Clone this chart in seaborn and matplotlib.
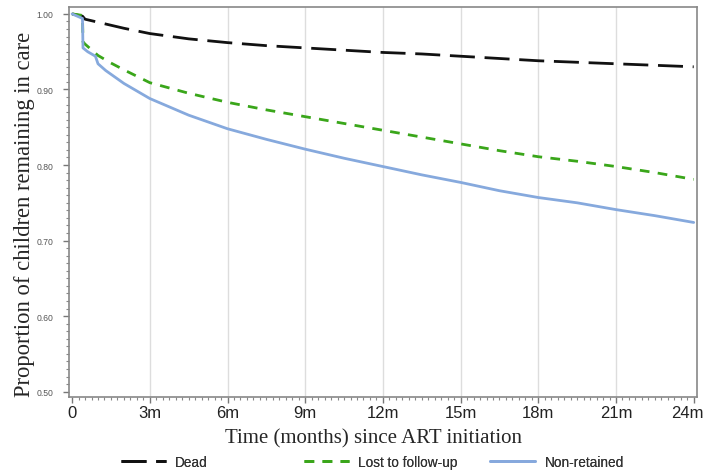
import numpy as np
import pandas as pd
import seaborn as sns
import matplotlib
matplotlib.use("Agg")
import matplotlib.pyplot as plt
import matplotlib.transforms as mtransforms
from matplotlib.ticker import MultipleLocator

# ---- data ----
dead_t = [0, 0.4, 0.5, 1, 2, 3, 4.5, 6, 7.5, 9, 10.5, 12, 13.5, 15, 16.5, 18, 19.5, 21, 22.5, 24]
dead_v = [1.0, 0.997, 0.993, 0.989, 0.981, 0.974, 0.967, 0.962, 0.958, 0.955, 0.952, 0.949,
          0.947, 0.944, 0.941, 0.938, 0.936, 0.934, 0.932, 0.930]

ltfu_t = [0, 0.4, 0.42, 0.5, 1, 1.5, 2, 3, 4.5, 6, 7.5, 9, 10.5, 12, 13.5, 15, 16.5, 18, 19.5, 21, 22.5, 24]
ltfu_v = [1.0, 0.998, 0.963, 0.960, 0.945, 0.935, 0.926, 0.909, 0.895, 0.883, 0.873, 0.864,
          0.855, 0.846, 0.837, 0.828, 0.819, 0.811, 0.805, 0.798, 0.790, 0.781]

nonret_t = [0, 0.4, 0.42, 0.6, 0.9, 1.0, 1.3, 2, 3, 4.5, 6, 7.5, 9, 10.5, 12, 13.5, 15, 16.5,
            18, 19.5, 21, 22.5, 24]
nonret_v = [1.0, 0.994, 0.955, 0.950, 0.944, 0.934, 0.925, 0.908, 0.888, 0.866, 0.848, 0.834,
            0.821, 0.809, 0.798, 0.787, 0.777, 0.766, 0.757, 0.750, 0.741, 0.733, 0.724]

series_names = ["Dead", "Lost to follow-up", "Non-retained"]
x_ticks = [0, 3, 6, 9, 12, 15, 18, 21, 24]
x_tick_labels = ["0", "3m", "6m", "9m", "12m", "15m", "18m", "21m", "24m"]
y_ticks = [0.5, 0.6, 0.7, 0.8, 0.9, 1.0]
y_tick_labels = ["0.50", "0.60", "0.70", "0.80", "0.90", "1.00"]

df = pd.concat([
    pd.DataFrame({"t": dead_t, "v": dead_v, "s": series_names[0]}),
    pd.DataFrame({"t": ltfu_t, "v": ltfu_v, "s": series_names[1]}),
    pd.DataFrame({"t": nonret_t, "v": nonret_v, "s": series_names[2]}),
], ignore_index=True)

sns.set_style("white")
plt.rcParams["font.family"] = ["Liberation Sans", "DejaVu Sans"]

fig = plt.figure(figsize=(7.07, 4.77), dpi=100)
ax = fig.add_axes([0.0976, 0.1656, 0.888, 0.8174])

styles = {
    "Dead": dict(color="#111111", ls=(0, (9, 3.5)), lw=2.0),
    "Lost to follow-up": dict(color="#3aa61a", ls=(0, (3.5, 3)), lw=2.0),
    "Non-retained": dict(color="#86a9dd", ls="-", lw=2.0),
}
for name in series_names:
    sub = df[df["s"] == name]
    st = styles[name]
    sns.lineplot(data=sub, x="t", y="v", ax=ax, color=st["color"], linestyle=st["ls"],
                 linewidth=st["lw"], label=name, estimator=None, sort=False)

ax.set_xlim(-0.12, 24.12)
ax.set_ylim(0.493, 1.009)
ax.set_xticks(x_ticks)
ax.set_xticklabels(x_tick_labels, fontsize=12, color="#222222")
ax.set_yticks(y_ticks)
ax.set_yticklabels(y_tick_labels, fontsize=6.2, color="#555555")
ax.xaxis.set_minor_locator(MultipleLocator(0.25))
ax.yaxis.set_minor_locator(MultipleLocator(0.01))
ax.tick_params(axis="x", which="major", direction="out", length=4, width=1, color="#777777",
               bottom=True, pad=2)
ax.tick_params(axis="y", which="major", direction="out", length=4, width=1, color="#777777",
               left=True, pad=7)
ax.tick_params(axis="both", which="minor", direction="out", length=2.5, width=0.8,
               color="#888888", bottom=True, left=True)

# keep the last tick label inside the figure, as in the reference
last = ax.get_xticklabels()[-1]
last.set_ha("right")
last.set_transform(last.get_transform() + mtransforms.ScaledTranslation(10 / 100, 0, fig.dpi_scale_trans))

for x in x_ticks[1:-1]:
    ax.axvline(x, color="#dddddd", lw=1.0, zorder=0)
for sp in ax.spines.values():
    sp.set_color("#888888")
    sp.set_linewidth(1.2)

ax.set_xlabel("Time (months) since ART initiation", fontsize=15,
              family=["Liberation Serif", "DejaVu Serif"], labelpad=6)
ax.xaxis.label.set_x(0.485)
ax.set_ylabel("Proportion of children remaining in care", fontsize=16.3,
              family=["Liberation Serif", "DejaVu Serif"], labelpad=1)
ax.yaxis.label.set_y(0.47)

ax.get_legend().remove()
handles, labels = ax.get_legend_handles_labels()
leg_x = [0.171, 0.430, 0.693]
for h, l, lx in zip(handles, labels, leg_x):
    lg = fig.legend([h], [l], loc="center left", bbox_to_anchor=(lx, 0.03), frameon=False,
                    fontsize=9.8, handlelength=3.3, handletextpad=0.7, borderaxespad=0,
                    borderpad=0, labelcolor="#333333")
    fig.add_artist(lg)

fig.savefig("out.png", dpi=100)
